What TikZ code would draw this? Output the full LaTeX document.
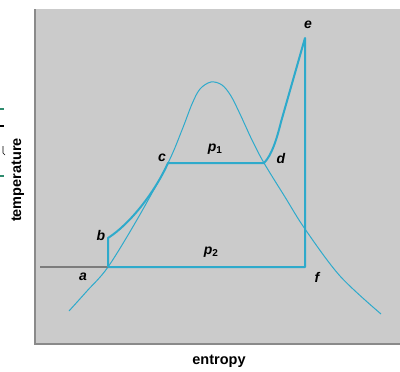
\documentclass[tikz,border=0pt]{standalone}
\usepackage{fontspec}
\setmainfont{Liberation Sans}
\begin{document}
\begin{tikzpicture}[x=1pt,y=-1pt,
  thickline/.style={draw=cyanline,line width=2pt,line join=round},
  thinline/.style={draw=cyanline,line width=1pt},
  ptlabel/.style={font=\fontsize{14}{14}\selectfont\bfseries\itshape,inner sep=0pt},
  axislabel/.style={font=\fontsize{14.5}{14.5}\selectfont\bfseries,inner sep=0pt}]
\definecolor{cyanline}{HTML}{2EAACB}
\definecolor{panel}{HTML}{CBCBCB}
\definecolor{frame}{HTML}{8A8A8A}
\definecolor{strayg}{HTML}{2E8B6E}
\useasboundingbox (0,0) rectangle (400,372);
\fill[white] (0,0) rectangle (400,372);
\fill[panel] (35,9) rectangle (400,344);
\draw[frame,line width=1.3pt] (35,9) -- (35,344) -- (400,344);
% stray marks at left edge
\draw[strayg,line width=1.5pt] (0,109) -- (4,109);
\draw[black,line width=2.5pt] (0,126) -- (4,126);
\draw[black,line width=0.6pt] (3,146) -- (3,153) -- (5,155);
\draw[strayg,line width=1.5pt] (0,176) -- (4,176);
% coordinates
\coordinate (a) at (108,267);
\coordinate (b) at (108,238);
\coordinate (c) at (168,163);
\coordinate (d) at (264,163);
\coordinate (e) at (305,38);
\coordinate (f) at (305,267);
\coordinate (l0) at (40,267);
% dome
\draw[thinline] plot[smooth,tension=0.55] coordinates {(69,311) (87,291) (108,267) (138,218) (168,163) (182,130) (192,104) (200,89) (211,82) (222,85) (231,96) (240,114) (252,140) (264,163) (285,197) (305,229) (340,276) (381,314)};
% baseline
\draw[frame!90!black,line width=1.2pt] (l0) -- (a);
% cycle
\draw[thickline] (a) -- (b) .. controls (130,224) and (155,192) .. (c) -- (d)
  .. controls (272,155) and (277,138) .. (281,122) -- (e) -- (f) -- (a);
% labels
\node[ptlabel] (la) at (83,277) {a};
\node[ptlabel] (lb) at (101,235) {b};
\node[ptlabel] (lc) at (162,158) {c};
\node[ptlabel] (ld) at (281,158) {d};
\node[ptlabel] (le) at (308,25) {e};
\node[ptlabel] (lf) at (317,277) {f};
\node[ptlabel] (lp1) at (215,149) {p\raisebox{-2pt}{\fontsize{10}{10}\selectfont\upshape 1}};
\node[ptlabel] (lp2) at (211,252) {p\raisebox{-2pt}{\fontsize{10}{10}\selectfont\upshape 2}};
\node[axislabel,rotate=90] (ty) at (18,180) {temperature};
\node[axislabel] (tx) at (219,361) {entropy};
\end{tikzpicture}
\end{document}
